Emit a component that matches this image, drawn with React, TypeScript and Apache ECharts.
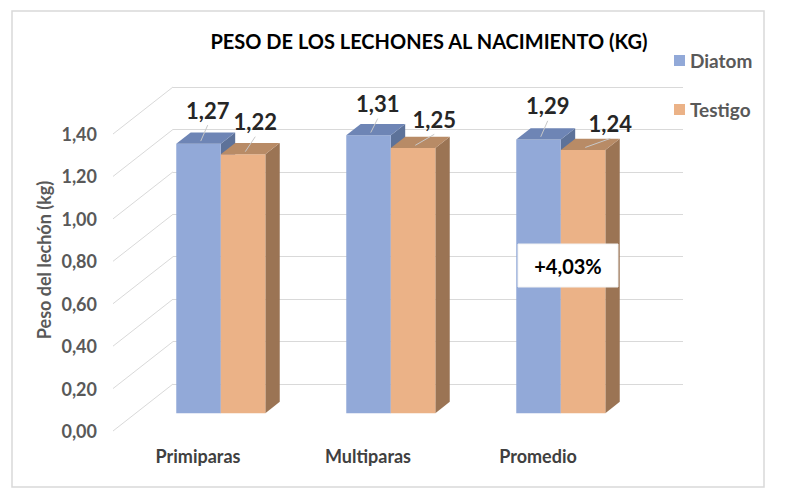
import React, { useEffect, useRef } from "react";
import * as echarts from "echarts";

const categories = ["Primiparas", "Multiparas", "Promedio"];
const diatom = [1.27, 1.31, 1.29];
const testigo = [1.22, 1.25, 1.24];
const yTicks = [0, 0.2, 0.4, 0.6, 0.8, 1.0, 1.2, 1.4];
const seriesNames = ["Diatom", "Testigo"];
const titleText = "PESO DE LOS LECHONES AL NACIMIENTO (KG)";
const yAxisTitle = "Peso del lechón (kg)";
const diffLabel = "+4,03%";

// styling / projection constants
const DX = -60;
const DY = 47;
const D_FRONT = 0.62;
const D_BACK = 0.38;
const BAR_FRAC = 0.262;
const FONT = "Lato, 'Open Sans', sans-serif";
const palette = [
  { front: "#92a9d8", top: "#6e85b5", side: "#5d7299" },
  { front: "#ebb287", top: "#b88b66", side: "#9b7454" },
];
const labelOffsets = [
  [[2, -28], [2, -26], [2, -28]],
  [[5, -27], [14, -23], [20, -21]],
];

const fmt = (v: number) => v.toFixed(2).replace(".", ",");

function makeBarRender(s: number) {
  return (params: any, api: any) => {
    const idx = api.value(0);
    const val = api.value(1);
    const top = api.coord([idx, val]);
    const base = api.coord([idx, 0]);
    const band = api.size([1, 0])[0];
    const w = band * BAR_FRAC;
    const x0 = s === 0 ? top[0] - w : top[0];
    const x1 = x0 + w;
    const fx = DX * D_FRONT, fy = DY * D_FRONT;
    const bx = DX * D_BACK, by = DY * D_BACK;
    const ty = top[1];
    const by0 = base[1];
    const c = palette[s];
    const cx = (x0 + x1) / 2 + (fx + bx) / 2;
    const cy = ty + (fy + by) / 2;
    const off = labelOffsets[s][idx];
    const lx = cx + off[0];
    const ly = cy + off[1];
    return {
      type: "group",
      children: [
        {
          type: "polygon",
          shape: { points: [[x1 + fx, ty + fy], [x1 + bx, ty + by], [x1 + bx, by0 + by], [x1 + fx, by0 + fy]] },
          style: { fill: c.side },
        },
        {
          type: "rect",
          shape: { x: x0 + fx, y: ty + fy, width: w, height: by0 - ty },
          style: { fill: c.front },
        },
        {
          type: "polygon",
          shape: { points: [[x0 + fx, ty + fy], [x1 + fx, ty + fy], [x1 + bx, ty + by], [x0 + bx, ty + by]] },
          style: { fill: c.top },
        },
        {
          type: "line",
          shape: { x1: lx, y1: ly + 15, x2: cx - 5, y2: cy + 3 },
          style: { stroke: "#c8c8c8", lineWidth: 1 },
        },
        {
          type: "text",
          x: lx,
          y: ly,
          style: {
            text: fmt(val),
            fill: "#262626",
            font: `bold 22px ${FONT}`,
            align: "center",
            verticalAlign: "middle",
          },
        },
      ],
    };
  };
}

export default function App() {
  const ref = useRef<HTMLDivElement>(null);
  useEffect(() => {
    if (!ref.current) return;
    const chart = echarts.init(ref.current, undefined, { renderer: "svg" });
    const gridBack = { left: 173, right: 117, top: 87, bottom: 120 };
    const gridFront = { left: 113, right: 177, top: 134, bottom: 73 };
    chart.setOption({
      animation: false,
      backgroundColor: "#ffffff",
      title: {
        text: titleText,
        left: 424,
        top: 26,
        textAlign: "center",
        textStyle: { fontFamily: FONT, fontSize: 20, fontWeight: "bold", color: "#000000" },
      },
      legend: {
        data: seriesNames,
        orient: "vertical",
        left: 669,
        top: 46,
        itemWidth: 11,
        itemHeight: 11,
        itemGap: 30,
        icon: "rect",
        textStyle: { fontFamily: FONT, fontSize: 19, fontWeight: "bold", color: "#595959" },
      },
      grid: [gridBack, gridFront],
      xAxis: [
        { type: "category", gridIndex: 0, data: categories, show: false },
        {
          type: "category",
          gridIndex: 1,
          data: categories,
          axisLine: { show: false },
          axisTick: { show: false },
          axisLabel: { margin: 16, fontFamily: FONT, fontSize: 18, fontWeight: "bold", color: "#404040" },
        },
      ],
      yAxis: [
        {
          type: "value",
          gridIndex: 0,
          min: 0,
          max: 1.4,
          interval: 0.2,
          axisLabel: { show: false },
          axisLine: { show: false },
          axisTick: { show: false },
          splitLine: { show: true, lineStyle: { color: "#d9d9d9", width: 1 } },
        },
        {
          type: "value",
          gridIndex: 1,
          min: 0,
          max: 1.4,
          interval: 0.2,
          axisLine: { show: false },
          axisTick: { show: false },
          splitLine: { show: false },
          axisLabel: {
            margin: 16,
            formatter: (v: number) => fmt(v),
            fontFamily: FONT,
            fontSize: 18,
            fontWeight: "bold",
            color: "#595959",
          },
        },
      ],
      series: [
        {
          type: "custom",
          name: "wall",
          xAxisIndex: 0,
          yAxisIndex: 0,
          clip: false,
          silent: true,
          data: yTicks.map((v) => [0, v]),
          renderItem: (params: any, api: any) => {
            const y = api.coord([0, api.value(1)])[1];
            const x = params.coordSys.x;
            return {
              type: "line",
              shape: { x1: x, y1: y, x2: x + DX, y2: y + DY },
              style: { stroke: "#d9d9d9", lineWidth: 1 },
            };
          },
        },
        {
          type: "custom",
          name: seriesNames[0],
          xAxisIndex: 0,
          yAxisIndex: 0,
          clip: false,
          itemStyle: { color: palette[0].front },
          data: diatom.map((v, i) => [i, v]),
          renderItem: makeBarRender(0),
        },
        {
          type: "custom",
          name: seriesNames[1],
          xAxisIndex: 0,
          yAxisIndex: 0,
          clip: false,
          itemStyle: { color: palette[1].front },
          data: testigo.map((v, i) => [i, v]),
          renderItem: makeBarRender(1),
        },
      ],
      graphic: [
        {
          type: "rect",
          shape: { x: 12, y: 11, width: 752, height: 476 },
          style: { fill: "none", stroke: "#d9d9d9", lineWidth: 1.5 },
          silent: true,
        },
        {
          type: "text",
          x: 44,
          y: 260,
          rotation: Math.PI / 2,
          style: {
            text: yAxisTitle,
            fill: "#595959",
            font: `bold 18px ${FONT}`,
            align: "center",
            verticalAlign: "middle",
          },
        },
        {
          type: "rect",
          z: 100,
          shape: { x: 518, y: 244, width: 100, height: 43 },
          style: { fill: "#ffffff", stroke: "#f3f3f3", lineWidth: 1 },
        },
        {
          type: "text",
          z: 101,
          x: 568,
          y: 266,
          style: {
            text: diffLabel,
            fill: "#000000",
            font: `bold 20px ${FONT}`,
            align: "center",
            verticalAlign: "middle",
          },
        },
      ],
    });
    return () => chart.dispose();
  }, []);
  return (
    <div
      ref={ref}
      style={{ position: "fixed", left: 0, top: 0, width: 800, height: 504, background: "#fff" }}
    />
  );
}
